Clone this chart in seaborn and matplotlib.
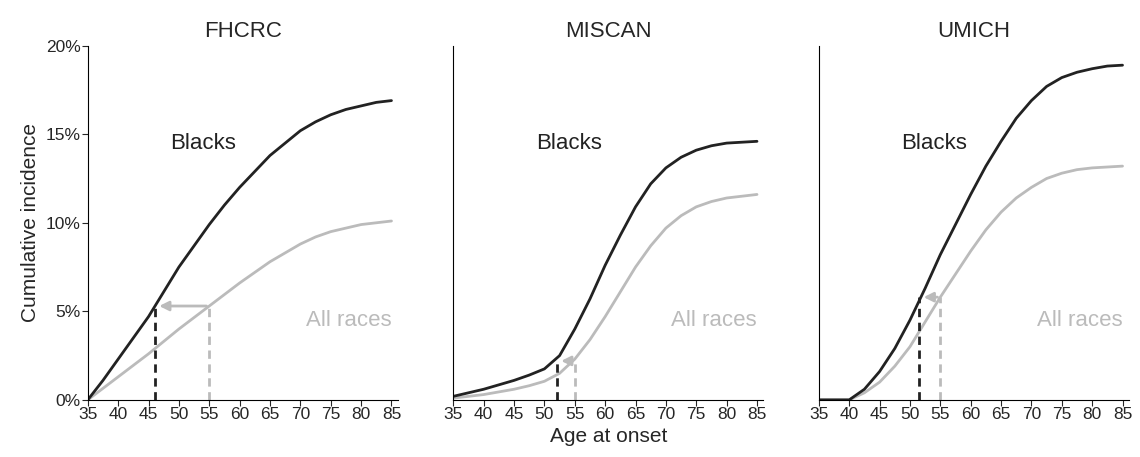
import matplotlib
matplotlib.use("Agg")
import matplotlib.pyplot as plt
import seaborn as sns
import pandas as pd

sns.set_style("white")
plt.rcParams['font.family'] = ['Liberation Sans', 'DejaVu Sans']

models = ["FHCRC", "MISCAN", "UMICH"]
ages = [35, 37.5, 40, 42.5, 45, 47.5, 50, 52.5, 55, 57.5, 60, 62.5, 65, 67.5, 70, 72.5, 75, 77.5, 80, 82.5, 85]
fhcrc_black = [0, 1.1, 2.3, 3.5, 4.7, 6.1, 7.5, 8.7, 9.9, 11.0, 12.0, 12.9, 13.8, 14.5, 15.2, 15.7, 16.1, 16.4, 16.6, 16.8, 16.9]
fhcrc_all = [0, 0.65, 1.3, 1.95, 2.6, 3.3, 4.0, 4.65, 5.3, 5.95, 6.6, 7.2, 7.8, 8.3, 8.8, 9.2, 9.5, 9.7, 9.9, 10.0, 10.1]
miscan_black = [0.2, 0.4, 0.6, 0.85, 1.1, 1.4, 1.75, 2.5, 4.0, 5.7, 7.6, 9.3, 10.9, 12.2, 13.1, 13.7, 14.1, 14.35, 14.5, 14.55, 14.6]
miscan_all = [0.1, 0.2, 0.3, 0.45, 0.6, 0.8, 1.05, 1.5, 2.3, 3.4, 4.7, 6.1, 7.5, 8.7, 9.7, 10.4, 10.9, 11.2, 11.4, 11.5, 11.6]
umich_black = [0, 0, 0, 0.6, 1.6, 2.9, 4.5, 6.3, 8.2, 9.9, 11.6, 13.2, 14.6, 15.9, 16.9, 17.7, 18.2, 18.5, 18.7, 18.85, 18.9]
umich_all = [0, 0, 0, 0.4, 1.0, 1.9, 3.0, 4.4, 5.8, 7.1, 8.4, 9.6, 10.6, 11.4, 12.0, 12.5, 12.8, 13.0, 13.1, 13.15, 13.2]
black_series = [fhcrc_black, miscan_black, umich_black]
all_series = [fhcrc_all, miscan_all, umich_all]
onset_black = [46, 52, 51.5]
onset_all = [55, 55, 55]
onset_level = [5.3, 2.2, 5.8]

fig, axes = plt.subplots(1, 3, figsize=(11.4, 4.57), dpi=100)
fig.subplots_adjust(left=0.077, right=0.99, top=0.9, bottom=0.125, wspace=0.18)
dark, grey = "#222222", "#bbbbbb"
for i, ax in enumerate(axes):
    df = pd.DataFrame({"age": ages, "b": black_series[i], "a": all_series[i]})
    sns.lineplot(data=df, x="age", y="a", ax=ax, color=grey, lw=2)
    sns.lineplot(data=df, x="age", y="b", ax=ax, color=dark, lw=2)
    lv = onset_level[i]
    ax.plot([onset_black[i]] * 2, [0, lv], ls=(0, (3, 2)), color=dark, lw=2)
    ax.plot([onset_all[i]] * 2, [0, lv], ls=(0, (3, 2)), color=grey, lw=2)
    ax.annotate("", xy=(onset_black[i] + 0.3, lv), xytext=(onset_all[i], lv),
                arrowprops=dict(arrowstyle="-|>", color=grey, lw=2, mutation_scale=14))
    ax.text(54, 14.5, "Blacks", fontsize=16, color=dark, ha="center", va="center")
    ax.text(85, 4.5, "All races", fontsize=16, color=grey, ha="right", va="center")
    ax.set_title(models[i], fontsize=16)
    ax.set_xlim(35, 86)
    ax.set_ylim(0, 20)
    ax.set_xticks(range(35, 90, 5))
    ax.tick_params(axis="x", labelsize=12.5, length=4, bottom=True, direction="out", pad=1)
    ax.set_xlabel("Age at onset" if i == 1 else "", fontsize=15)
    for s in ["top", "right"]:
        ax.spines[s].set_visible(False)
    for s in ["left", "bottom"]:
        ax.spines[s].set_color("black")
    if i == 0:
        ax.set_yticks([0, 5, 10, 15, 20])
        ax.set_yticklabels(["0%", "5%", "10%", "15%", "20%"])
        ax.tick_params(axis="y", labelsize=12.5, length=4, left=True, pad=1)
        ax.set_ylabel("Cumulative incidence", fontsize=15)
    else:
        ax.set_yticks([])
        ax.set_ylabel("")
fig.savefig("out.png")
